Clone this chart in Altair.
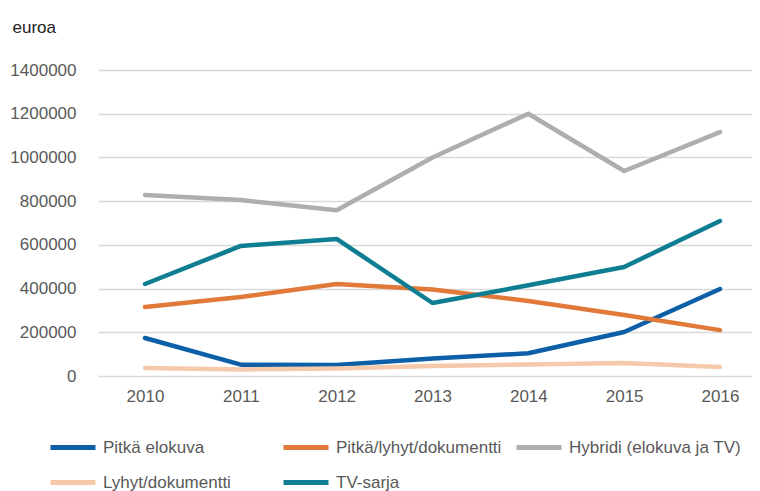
import altair as alt
import pandas as pd

years = [2010, 2011, 2012, 2013, 2014, 2015, 2016]
series = ["Pitkä elokuva", "Pitkä/lyhyt/dokumentti", "Hybridi (elokuva ja TV)",
          "Lyhyt/dokumentti", "TV-sarja"]
pitka_elokuva = [174000, 52000, 50000, 80000, 104000, 201000, 398000]
pitka_lyhyt_dok = [316000, 361000, 421000, 396000, 343000, 279000, 210000]
hybridi = [828000, 805000, 758000, 1000000, 1200000, 938000, 1116000]
lyhyt_dok = [37000, 30000, 34000, 46000, 53000, 60000, 41000]
tv_sarja = [421000, 595000, 627000, 334000, 415000, 499000, 709000]
colors = ["#0D60A8", "#E0793A", "#AEAEAE", "#F6C9AA", "#0F7E93"]
y_ticks = [0, 200000, 400000, 600000, 800000, 1000000, 1200000, 1400000]

values = [pitka_elokuva, pitka_lyhyt_dok, hybridi, lyhyt_dok, tv_sarja]
rows = []
for name, vals in zip(series, values):
    for yr, v in zip(years, vals):
        rows.append({"vuosi": yr, "euroa": v, "sarja": name})
df = pd.DataFrame(rows)

FONT = "Liberation Sans, Arial, sans-serif"
FS = 17

chart = alt.Chart(df).mark_line(strokeWidth=4.5, strokeCap="round", strokeJoin="round").encode(
    x=alt.X("vuosi:Q",
            scale=alt.Scale(domain=[2009.5096, 2016.334], nice=False, zero=False),
            axis=alt.Axis(values=years, format="d", title=None, grid=False, domain=False,
                          ticks=False, tickSize=0, labelPadding=12, labelFlush=False,
                          labelFontSize=FS, labelColor="#595959", labelFont=FONT)),
    y=alt.Y("euroa:Q",
            scale=alt.Scale(domain=[0, 1400000], nice=False),
            axis=alt.Axis(values=y_ticks, format="d", title="euroa", titleAngle=0,
                          titleAlign="left", titleBaseline="middle", titleX=-86, titleY=-43,
                          titleFontSize=FS, titleFontWeight="normal", titleColor="#222222",
                          titleFont=FONT, grid=True, gridColor="#D9D9D9", gridWidth=1.3,
                          domain=False, ticks=False, tickSize=0, labelPadding=22,
                          labelFontSize=FS, labelColor="#595959", labelFont=FONT)),
    color=alt.Color("sarja:N", sort=series,
                    scale=alt.Scale(domain=series, range=colors),
                    legend=alt.Legend(title=None, orient="none", legendX=-50, legendY=352.5,
                                      direction="horizontal",
                                      columns=3, gridAlign="all", columnPadding=-2,
                                      rowPadding=-8, symbolType="stroke", symbolSize=2025,
                                      symbolStrokeWidth=5, labelOffset=5, padding=0,
                                      labelFontSize=FS, labelColor="#595959",
                                      labelFont=FONT, labelLimit=300)),
    order=alt.Order("vuosi:Q"),
).properties(
    width=654,
    height=306,
    autosize=alt.AutoSizeParams(type="none"),
    padding={"left": 90, "top": 62, "right": 0, "bottom": 115},
).configure_view(stroke=None)

chart.save("out.html", embed_options={"renderer": "svg", "actions": False})
